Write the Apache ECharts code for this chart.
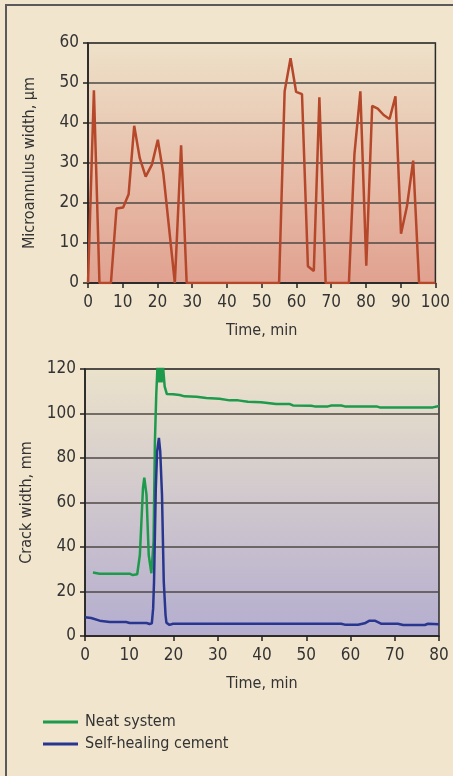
<!DOCTYPE html>
<html>
<head>
<meta charset="utf-8">
<script src="https://cdn.jsdelivr.net/npm/echarts@6/dist/echarts.min.js"></script>
<style>
  html, body { margin: 0; padding: 0; background: #f1e5cd; }
  #wrap { position: relative; width: 453px; height: 776px; }
  #main { width: 453px; height: 776px; }
  #frame { position: absolute; left: 5px; top: 4px; right: 0; bottom: 0;
           border-top: 2px solid #5a5a5a; border-left: 2px solid #5a5a5a; pointer-events: none; }
</style>
</head>
<body>
<div id="wrap">
  <div id="main"></div>
  <div id="frame"></div>
</div>
<script>
// microannulus width (top panel)
var microTime = [0, 1.7, 3.3, 6.6, 8.2, 10.1, 11.7, 13.3, 14.9, 16.6, 18.4, 20.1, 21.7, 25.0, 26.8, 28.4,
  55.0, 56.6, 58.3, 59.9, 61.6, 63.3, 65.0, 66.6, 68.4, 75.1, 76.7, 78.4, 80.1, 81.8, 83.4, 85.1,
  86.8, 88.5, 90.1, 91.8, 93.6, 95.3, 100];
var microWidth = [0, 48.2, 0, 0, 18.6, 18.9, 22.2, 39.3, 31.2, 26.6, 29.6, 35.8, 27.3, 0, 34.4, 0,
  0, 47.9, 56.2, 47.8, 47.2, 4.2, 3.0, 46.4, 0, 0, 32.3, 47.9, 4.3, 44.3, 43.6, 42.0,
  41.0, 46.7, 12.3, 19.1, 30.6, 0, 0];

// crack width (bottom panel)
var neatTime = [1.8, 3.3, 10.1, 10.8, 11.8, 12.4, 13.1, 13.4, 13.9, 14.4, 15.0, 15.5, 15.8, 16.1, 16.4,
  16.7, 17.0, 17.3, 17.6, 18.0, 18.5, 19.9, 21.4, 22.5, 25.2, 27.4, 30.4, 32.7, 34.6, 36.8, 39.8,
  43.2, 46.3, 47.0, 51.1, 51.9, 54.9, 55.7, 57.9, 58.7, 65.9, 66.6, 78.6, 80];
var neatWidth = [28.5, 28.0, 28.0, 27.4, 27.75, 36.4, 66.4, 71.2, 63.4, 36.4, 28.2, 42.4, 87.4, 108.4, 122,
  114, 121, 114, 122, 112.2, 108.75, 108.6, 108.3, 107.7, 107.5, 107.0, 106.6, 105.9, 105.9, 105.3, 105.1,
  104.25, 104.25, 103.6, 103.5, 103.2, 103.2, 103.6, 103.6, 103.2, 103.2, 102.75, 102.75, 103.35];

var healTime = [0, 1.4, 3.3, 5.6, 9.3, 10.1, 13.9, 14.6, 15.1, 15.4, 15.6, 16.0, 16.3, 16.7, 17.0, 17.4,
  17.8, 18.2, 18.4, 19.1, 19.9, 57.9, 58.7, 61.7, 63.2, 64.3, 65.5, 67.0, 70.7, 71.9, 76.8, 77.5, 80];
var healWidth = [8.4, 8.1, 6.9, 6.3, 6.3, 5.85, 5.85, 5.4, 5.7, 12.4, 24.4, 66.4, 83, 89, 83, 63.4,
  24.4, 9.4, 6, 5, 5.5, 5.5, 5.1, 5.1, 5.7, 6.9, 6.9, 5.5, 5.5, 4.95, 4.95, 5.5, 5.25];

function pairs(xs, ys) {
  return xs.map(function (x, i) { return [x, ys[i]]; });
}

var font = '"DejaVu Sans Condensed", "Liberation Sans", sans-serif';
var txt = '#333';

function grad(top, bottom) {
  return { type: 'linear', x: 0, y: 0, x2: 0, y2: 1,
    colorStops: [{ offset: 0, color: top }, { offset: 1, color: bottom }] };
}

function xAxisFor(idx, max) {
  return {
    gridIndex: idx, type: 'value', min: 0, max: max, interval: 10,
    name: 'Time, min', nameLocation: 'middle', nameGap: 40,
    nameTextStyle: { fontFamily: font, fontSize: 16, color: txt },
    axisLine: { lineStyle: { color: '#222', width: 1.5 } },
    axisTick: { show: true, length: 5, lineStyle: { color: '#222', width: 1.5 } },
    axisLabel: { fontFamily: font, fontSize: 17, color: txt, margin: 11 },
    splitLine: { show: false }
  };
}

function yAxisFor(idx, max, interval, name) {
  return {
    gridIndex: idx, type: 'value', min: 0, max: max, interval: interval,
    name: name, nameLocation: 'middle', nameGap: 50,
    nameTextStyle: { fontFamily: font, fontSize: 16, color: txt },
    axisLine: { show: true, lineStyle: { color: '#222', width: 1.5 } },
    axisTick: { show: true, length: 5, lineStyle: { color: '#222', width: 1.5 } },
    axisLabel: { fontFamily: font, fontSize: 17, color: txt, margin: 9 },
    splitLine: { show: true, lineStyle: { color: '#4e4844', width: 1.5 } }
  };
}

var chart = echarts.init(document.getElementById('main'));

var option = {
  backgroundColor: '#f1e5cd',
  animation: false,
  grid: [
    { left: 88, right: 14, top: 43, height: 240, show: true,
      borderColor: '#2a2a2a', borderWidth: 1.5,
      backgroundColor: grad('#eee1c9', '#e1a190') },
    { left: 85, right: 14, top: 369, height: 267, show: true,
      borderColor: '#2a2a2a', borderWidth: 1.5,
      backgroundColor: grad('#ebe2cb', '#b4adcf') }
  ],
  xAxis: [xAxisFor(0, 100), xAxisFor(1, 80)],
  yAxis: [
    yAxisFor(0, 60, 10, 'Microannulus width, \u00b5m'),
    yAxisFor(1, 120, 20, 'Crack width, mm')
  ],
  legend: {
    left: 38, top: 709, orient: 'vertical',
    itemWidth: 35, itemHeight: 3, itemGap: 6,
    icon: 'rect',
    textStyle: { fontFamily: font, fontSize: 16, color: txt, padding: [0, 0, 0, 2] },
    data: ['Neat system', 'Self-healing cement']
  },
  series: [
    {
      name: 'Microannulus', type: 'line', xAxisIndex: 0, yAxisIndex: 0,
      data: pairs(microTime, microWidth), showSymbol: false,
      lineStyle: { color: '#b5472a', width: 2.5 }
    },
    {
      name: 'Neat system', type: 'line', xAxisIndex: 1, yAxisIndex: 1,
      data: pairs(neatTime, neatWidth), showSymbol: false,
      itemStyle: { color: '#1d9a4c' },
      lineStyle: { color: '#1d9a4c', width: 2.5 }
    },
    {
      name: 'Self-healing cement', type: 'line', xAxisIndex: 1, yAxisIndex: 1,
      data: pairs(healTime, healWidth), showSymbol: false,
      itemStyle: { color: '#28368f' },
      lineStyle: { color: '#28368f', width: 2.5 }
    }
  ]
};

chart.setOption(option);
</script>
</body>
</html>
